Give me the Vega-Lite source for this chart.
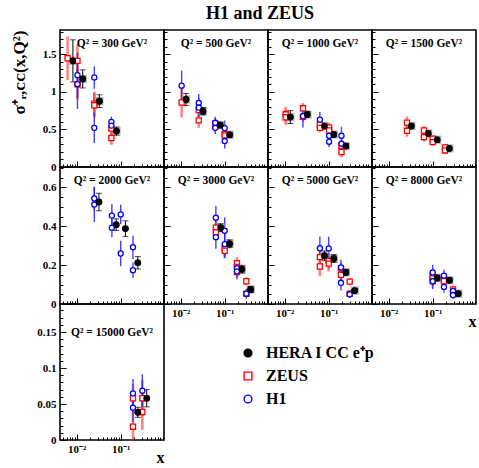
{
"$schema":"https://vega.github.io/schema/vega-lite/v6.json",
"padding":{"left":9,"top":5,"right":0,"bottom":0},
"title":{"text":"H1 and ZEUS","font":"Liberation Serif","fontSize":18,"fontWeight":"bold","anchor":"start","frame":"group","dx":146,"offset":6,"color":"black"},
"data":{"values":[
{"q":300,"s":"HERA","x":0.0082,"y":1.41,"e":0.28},
{"q":300,"s":"HERA","x":0.0137,"y":1.17,"e":0.12},
{"q":300,"s":"HERA","x":0.0327,"y":0.875,"e":0.085},
{"q":300,"s":"HERA","x":0.080,"y":0.477,"e":0.055},
{"q":300,"s":"ZEUS","x":0.0062,"y":1.445,"e":0.29},
{"q":300,"s":"ZEUS","x":0.0104,"y":1.41,"e":0.22},
{"q":300,"s":"ZEUS","x":0.0104,"y":1.10,"e":0.2},
{"q":300,"s":"ZEUS","x":0.0251,"y":0.84,"e":0.16},
{"q":300,"s":"ZEUS","x":0.0251,"y":0.82,"e":0.16},
{"q":300,"s":"ZEUS","x":0.0614,"y":0.51,"e":0.09},
{"q":300,"s":"ZEUS","x":0.0614,"y":0.385,"e":0.09},
{"q":300,"s":"H1","x":0.0104,"y":1.22,"e":0.3},
{"q":300,"s":"H1","x":0.0104,"y":1.10,"e":0.33},
{"q":300,"s":"H1","x":0.0251,"y":1.19,"e":0.15},
{"q":300,"s":"H1","x":0.0251,"y":0.52,"e":0.2},
{"q":300,"s":"H1","x":0.0614,"y":0.60,"e":0.07},
{"q":300,"s":"H1","x":0.0614,"y":0.55,"e":0.07},
{"q":500,"s":"HERA","x":0.0132,"y":0.897,"e":0.08},
{"q":500,"s":"HERA","x":0.032,"y":0.742,"e":0.05},
{"q":500,"s":"HERA","x":0.079,"y":0.557,"e":0.035},
{"q":500,"s":"HERA","x":0.129,"y":0.428,"e":0.035},
{"q":500,"s":"ZEUS","x":0.0105,"y":0.857,"e":0.2},
{"q":500,"s":"ZEUS","x":0.0257,"y":0.756,"e":0.1},
{"q":500,"s":"ZEUS","x":0.0257,"y":0.62,"e":0.1},
{"q":500,"s":"ZEUS","x":0.061,"y":0.574,"e":0.07},
{"q":500,"s":"ZEUS","x":0.061,"y":0.54,"e":0.07},
{"q":500,"s":"ZEUS","x":0.10,"y":0.44,"e":0.07},
{"q":500,"s":"ZEUS","x":0.10,"y":0.42,"e":0.07},
{"q":500,"s":"H1","x":0.0105,"y":1.08,"e":0.2},
{"q":500,"s":"H1","x":0.0257,"y":0.85,"e":0.12},
{"q":500,"s":"H1","x":0.0257,"y":0.79,"e":0.12},
{"q":500,"s":"H1","x":0.061,"y":0.587,"e":0.08},
{"q":500,"s":"H1","x":0.061,"y":0.52,"e":0.08},
{"q":500,"s":"H1","x":0.10,"y":0.517,"e":0.1},
{"q":500,"s":"H1","x":0.10,"y":0.345,"e":0.1},
{"q":1000,"s":"HERA","x":0.0134,"y":0.663,"e":0.085},
{"q":1000,"s":"HERA","x":0.0326,"y":0.698,"e":0.035},
{"q":1000,"s":"HERA","x":0.08,"y":0.544,"e":0.025},
{"q":1000,"s":"HERA","x":0.13,"y":0.432,"e":0.03},
{"q":1000,"s":"HERA","x":0.245,"y":0.278,"e":0.03},
{"q":1000,"s":"ZEUS","x":0.0105,"y":0.70,"e":0.1},
{"q":1000,"s":"ZEUS","x":0.0105,"y":0.66,"e":0.1},
{"q":1000,"s":"ZEUS","x":0.026,"y":0.78,"e":0.07},
{"q":1000,"s":"ZEUS","x":0.026,"y":0.667,"e":0.07},
{"q":1000,"s":"ZEUS","x":0.063,"y":0.565,"e":0.06},
{"q":1000,"s":"ZEUS","x":0.063,"y":0.52,"e":0.06},
{"q":1000,"s":"ZEUS","x":0.102,"y":0.525,"e":0.06},
{"q":1000,"s":"ZEUS","x":0.102,"y":0.485,"e":0.06},
{"q":1000,"s":"ZEUS","x":0.195,"y":0.282,"e":0.07},
{"q":1000,"s":"ZEUS","x":0.195,"y":0.199,"e":0.07},
{"q":1000,"s":"H1","x":0.026,"y":0.676,"e":0.15},
{"q":1000,"s":"H1","x":0.063,"y":0.63,"e":0.1},
{"q":1000,"s":"H1","x":0.102,"y":0.415,"e":0.07},
{"q":1000,"s":"H1","x":0.102,"y":0.336,"e":0.07},
{"q":1000,"s":"H1","x":0.195,"y":0.415,"e":0.12},
{"q":1000,"s":"H1","x":0.195,"y":0.309,"e":0.12},
{"q":1500,"s":"HERA","x":0.0326,"y":0.544,"e":0.035},
{"q":1500,"s":"HERA","x":0.079,"y":0.446,"e":0.03},
{"q":1500,"s":"HERA","x":0.126,"y":0.362,"e":0.03},
{"q":1500,"s":"HERA","x":0.238,"y":0.247,"e":0.02},
{"q":1500,"s":"ZEUS","x":0.026,"y":0.59,"e":0.08},
{"q":1500,"s":"ZEUS","x":0.026,"y":0.481,"e":0.08},
{"q":1500,"s":"ZEUS","x":0.0633,"y":0.485,"e":0.06},
{"q":1500,"s":"ZEUS","x":0.0633,"y":0.398,"e":0.06},
{"q":1500,"s":"ZEUS","x":0.10,"y":0.375,"e":0.05},
{"q":1500,"s":"ZEUS","x":0.10,"y":0.33,"e":0.05},
{"q":1500,"s":"ZEUS","x":0.19,"y":0.26,"e":0.04},
{"q":1500,"s":"ZEUS","x":0.19,"y":0.22,"e":0.04},
{"q":2000,"s":"HERA","x":0.032,"y":0.525,"e":0.045},
{"q":2000,"s":"HERA","x":0.079,"y":0.408,"e":0.03},
{"q":2000,"s":"HERA","x":0.128,"y":0.388,"e":0.04},
{"q":2000,"s":"HERA","x":0.245,"y":0.212,"e":0.032},
{"q":2000,"s":"H1","x":0.0251,"y":0.543,"e":0.06},
{"q":2000,"s":"H1","x":0.0251,"y":0.512,"e":0.09},
{"q":2000,"s":"H1","x":0.063,"y":0.455,"e":0.06},
{"q":2000,"s":"H1","x":0.063,"y":0.393,"e":0.05},
{"q":2000,"s":"H1","x":0.1,"y":0.461,"e":0.05},
{"q":2000,"s":"H1","x":0.1,"y":0.26,"e":0.066},
{"q":2000,"s":"H1","x":0.19,"y":0.292,"e":0.06},
{"q":2000,"s":"H1","x":0.19,"y":0.174,"e":0.04},
{"q":3000,"s":"HERA","x":0.081,"y":0.393,"e":0.02},
{"q":3000,"s":"HERA","x":0.129,"y":0.31,"e":0.02},
{"q":3000,"s":"HERA","x":0.245,"y":0.179,"e":0.02},
{"q":3000,"s":"HERA","x":0.389,"y":0.075,"e":0.015},
{"q":3000,"s":"ZEUS","x":0.063,"y":0.393,"e":0.04},
{"q":3000,"s":"ZEUS","x":0.063,"y":0.368,"e":0.04},
{"q":3000,"s":"ZEUS","x":0.1,"y":0.287,"e":0.04},
{"q":3000,"s":"ZEUS","x":0.1,"y":0.274,"e":0.04},
{"q":3000,"s":"ZEUS","x":0.19,"y":0.21,"e":0.03},
{"q":3000,"s":"ZEUS","x":0.19,"y":0.191,"e":0.03},
{"q":3000,"s":"ZEUS","x":0.19,"y":0.165,"e":0.03},
{"q":3000,"s":"ZEUS","x":0.31,"y":0.117,"e":0.02},
{"q":3000,"s":"ZEUS","x":0.31,"y":0.053,"e":0.02},
{"q":3000,"s":"H1","x":0.063,"y":0.444,"e":0.06},
{"q":3000,"s":"H1","x":0.063,"y":0.344,"e":0.06},
{"q":3000,"s":"H1","x":0.1,"y":0.377,"e":0.07},
{"q":3000,"s":"H1","x":0.1,"y":0.308,"e":0.07},
{"q":3000,"s":"H1","x":0.19,"y":0.184,"e":0.04},
{"q":3000,"s":"H1","x":0.19,"y":0.168,"e":0.04},
{"q":3000,"s":"H1","x":0.31,"y":0.053,"e":0.025},
{"q":5000,"s":"HERA","x":0.08,"y":0.248,"e":0.025},
{"q":5000,"s":"HERA","x":0.13,"y":0.234,"e":0.02},
{"q":5000,"s":"HERA","x":0.245,"y":0.163,"e":0.015},
{"q":5000,"s":"HERA","x":0.39,"y":0.069,"e":0.01},
{"q":5000,"s":"ZEUS","x":0.063,"y":0.241,"e":0.05},
{"q":5000,"s":"ZEUS","x":0.063,"y":0.193,"e":0.05},
{"q":5000,"s":"ZEUS","x":0.1,"y":0.222,"e":0.04},
{"q":5000,"s":"ZEUS","x":0.1,"y":0.208,"e":0.04},
{"q":5000,"s":"ZEUS","x":0.19,"y":0.182,"e":0.03},
{"q":5000,"s":"ZEUS","x":0.19,"y":0.15,"e":0.03},
{"q":5000,"s":"ZEUS","x":0.3,"y":0.115,"e":0.02},
{"q":5000,"s":"ZEUS","x":0.3,"y":0.053,"e":0.02},
{"q":5000,"s":"H1","x":0.063,"y":0.287,"e":0.06},
{"q":5000,"s":"H1","x":0.1,"y":0.286,"e":0.06},
{"q":5000,"s":"H1","x":0.19,"y":0.188,"e":0.04},
{"q":5000,"s":"H1","x":0.19,"y":0.109,"e":0.04},
{"q":5000,"s":"H1","x":0.3,"y":0.05,"e":0.02},
{"q":8000,"s":"HERA","x":0.126,"y":0.134,"e":0.015},
{"q":8000,"s":"HERA","x":0.24,"y":0.122,"e":0.012},
{"q":8000,"s":"HERA","x":0.38,"y":0.053,"e":0.008},
{"q":8000,"s":"ZEUS","x":0.1,"y":0.146,"e":0.03},
{"q":8000,"s":"ZEUS","x":0.1,"y":0.132,"e":0.03},
{"q":8000,"s":"ZEUS","x":0.1,"y":0.117,"e":0.03},
{"q":8000,"s":"ZEUS","x":0.18,"y":0.127,"e":0.03},
{"q":8000,"s":"ZEUS","x":0.18,"y":0.117,"e":0.03},
{"q":8000,"s":"ZEUS","x":0.29,"y":0.075,"e":0.02},
{"q":8000,"s":"ZEUS","x":0.29,"y":0.054,"e":0.02},
{"q":8000,"s":"H1","x":0.1,"y":0.162,"e":0.04},
{"q":8000,"s":"H1","x":0.1,"y":0.117,"e":0.04},
{"q":8000,"s":"H1","x":0.18,"y":0.146,"e":0.03},
{"q":8000,"s":"H1","x":0.18,"y":0.088,"e":0.03},
{"q":8000,"s":"H1","x":0.29,"y":0.067,"e":0.02},
{"q":8000,"s":"H1","x":0.29,"y":0.046,"e":0.02},
{"q":15000,"s":"HERA","x":0.245,"y":0.0385,"e":0.007},
{"q":15000,"s":"HERA","x":0.39,"y":0.058,"e":0.012},
{"q":15000,"s":"ZEUS","x":0.19,"y":0.058,"e":0.02},
{"q":15000,"s":"ZEUS","x":0.19,"y":0.0185,"e":0.02},
{"q":15000,"s":"ZEUS","x":0.31,"y":0.058,"e":0.025},
{"q":15000,"s":"ZEUS","x":0.31,"y":0.039,"e":0.025},
{"q":15000,"s":"H1","x":0.19,"y":0.0648,"e":0.02},
{"q":15000,"s":"H1","x":0.19,"y":0.0449,"e":0.02},
{"q":15000,"s":"H1","x":0.31,"y":0.0685,"e":0.023}
]},
"columns":4,
"spacing":0,
"bounds":"flush",
"resolve":{"scale":{"stroke":"independent","fill":"independent","shape":"independent"},"legend":{"stroke":"independent","fill":"independent","shape":"independent"}},
"concat":[
{"width":104,"height":137,"title":{"text":"Q² = 300 GeV²","offset":-19},"transform":[{"filter":"datum.q == 300"}],
"layer":[
{"mark":{"type":"point","opacity":0},"encoding":{"x":{"field":"x","type":"quantitative","scale":{"type":"log","domain":[0.00417,0.964],"nice":false},"axis":{"orient":"bottom","values":[0.01,0.1],"tickSize":-6,"labels":false,"title":null}},"y":{"field":"y","type":"quantitative","scale":{"domain":[0,1.82],"nice":false},"axis":{"orient":"left","values":[0,0.5,1,1.5],"format":"~g","tickSize":-6,"labels":true,"labelPadding":10,"title":"σ⁺ᵣ,ᴄᴄ(x,Q²)","titleFontSize":17,"titleAnchor":"end","titlePadding":14}}}},
{"mark":{"type":"point","opacity":0},"encoding":{"x":{"field":"x","type":"quantitative","scale":{"type":"log","domain":[0.00417,0.964],"nice":false},"axis":{"orient":"bottom","values":[0.005,0.006,0.007,0.008,0.009,0.02,0.03,0.04,0.05,0.06,0.07,0.08,0.09,0.2,0.3,0.4,0.5,0.6,0.7,0.8,0.9],"tickSize":-3,"labels":false,"title":null}},"y":{"field":"y","type":"quantitative","scale":{"domain":[0,1.82],"nice":false},"axis":{"orient":"left","values":[0.1,0.2,0.3,0.4,0.6,0.7,0.8,0.9,1.1,1.2,1.3,1.4,1.6,1.7,1.8],"tickSize":-3,"labels":false,"title":null}}}},
{"transform":[{"filter":"datum.s == 'ZEUS'"}],"mark":{"type":"errorbar","color":"#ff2020","opacity":0.55,"thickness":2.6},"encoding":{"x":{"field":"x","type":"quantitative","scale":{"type":"log","domain":[0.00417,0.964],"nice":false},"axis":null},"y":{"field":"y","type":"quantitative","scale":{"domain":[0,1.82],"nice":false},"axis":null},"yError":{"field":"e"}}},
{"transform":[{"filter":"datum.s == 'H1'"}],"mark":{"type":"errorbar","color":"#2020ff","opacity":0.85,"thickness":1.4},"encoding":{"x":{"field":"x","type":"quantitative","scale":{"type":"log","domain":[0.00417,0.964],"nice":false},"axis":null},"y":{"field":"y","type":"quantitative","scale":{"domain":[0,1.82],"nice":false},"axis":null},"yError":{"field":"e"}}},
{"transform":[{"filter":"datum.s == 'HERA'"}],"mark":{"type":"square","color":"#999999","size":70,"opacity":0.7},"encoding":{"x":{"field":"x","type":"quantitative","scale":{"type":"log","domain":[0.00417,0.964],"nice":false},"axis":null},"y":{"field":"y","type":"quantitative","scale":{"domain":[0,1.82],"nice":false},"axis":null}}},
{"transform":[{"filter":"datum.s == 'HERA'"}],"mark":{"type":"errorbar","color":"black","thickness":1,"ticks":{"size":6}},"encoding":{"x":{"field":"x","type":"quantitative","scale":{"type":"log","domain":[0.00417,0.964],"nice":false},"axis":null},"y":{"field":"y","type":"quantitative","scale":{"domain":[0,1.82],"nice":false},"axis":null},"yError":{"field":"e"}}},
{"mark":{"type":"point","strokeWidth":1.3,"size":26,"opacity":1},"encoding":{"x":{"field":"x","type":"quantitative","scale":{"type":"log","domain":[0.00417,0.964],"nice":false},"axis":null},"y":{"field":"y","type":"quantitative","scale":{"domain":[0,1.82],"nice":false},"axis":null},
"stroke":{"field":"s","type":"nominal","scale":{"domain":["HERA","ZEUS","H1"],"range":["#000000","#ff0000","#0000ff"]},"legend":null},
"fill":{"field":"s","type":"nominal","scale":{"domain":["HERA","ZEUS","H1"],"range":["#000000","#ffffff","#ffffff"]},"legend":null},
"shape":{"field":"s","type":"nominal","scale":{"domain":["HERA","ZEUS","H1"],"range":["circle","square","circle"]},"legend":null}}},
{"transform":[{"filter":"datum.s == 'HERA'"}],"mark":{"type":"circle","color":"black","size":45,"opacity":1},"encoding":{"x":{"field":"x","type":"quantitative","scale":{"type":"log","domain":[0.00417,0.964],"nice":false},"axis":null},"y":{"field":"y","type":"quantitative","scale":{"domain":[0,1.82],"nice":false},"axis":null}}}
],"resolve":{"axis":{"x":"independent","y":"independent"}}},
{"width":104,"height":137,"title":{"text":"Q² = 500 GeV²","offset":-19},"transform":[{"filter":"datum.q == 500"}],
"layer":[
{"mark":{"type":"point","opacity":0},"encoding":{"x":{"field":"x","type":"quantitative","scale":{"type":"log","domain":[0.00417,0.964],"nice":false},"axis":{"orient":"bottom","values":[0.01,0.1],"tickSize":-6,"labels":false,"title":null}},"y":{"field":"y","type":"quantitative","scale":{"domain":[0,1.82],"nice":false},"axis":{"orient":"left","values":[0,0.5,1,1.5],"tickSize":-6,"labels":false,"title":null}}}},
{"mark":{"type":"point","opacity":0},"encoding":{"x":{"field":"x","type":"quantitative","scale":{"type":"log","domain":[0.00417,0.964],"nice":false},"axis":{"orient":"bottom","values":[0.005,0.006,0.007,0.008,0.009,0.02,0.03,0.04,0.05,0.06,0.07,0.08,0.09,0.2,0.3,0.4,0.5,0.6,0.7,0.8,0.9],"tickSize":-3,"labels":false,"title":null}},"y":{"field":"y","type":"quantitative","scale":{"domain":[0,1.82],"nice":false},"axis":{"orient":"left","values":[0.1,0.2,0.3,0.4,0.6,0.7,0.8,0.9,1.1,1.2,1.3,1.4,1.6,1.7,1.8],"tickSize":-3,"labels":false,"title":null}}}},
{"transform":[{"filter":"datum.s == 'ZEUS'"}],"mark":{"type":"errorbar","color":"#ff2020","opacity":0.55,"thickness":2.6},"encoding":{"x":{"field":"x","type":"quantitative","scale":{"type":"log","domain":[0.00417,0.964],"nice":false},"axis":null},"y":{"field":"y","type":"quantitative","scale":{"domain":[0,1.82],"nice":false},"axis":null},"yError":{"field":"e"}}},
{"transform":[{"filter":"datum.s == 'H1'"}],"mark":{"type":"errorbar","color":"#2020ff","opacity":0.85,"thickness":1.4},"encoding":{"x":{"field":"x","type":"quantitative","scale":{"type":"log","domain":[0.00417,0.964],"nice":false},"axis":null},"y":{"field":"y","type":"quantitative","scale":{"domain":[0,1.82],"nice":false},"axis":null},"yError":{"field":"e"}}},
{"transform":[{"filter":"datum.s == 'HERA'"}],"mark":{"type":"square","color":"#999999","size":70,"opacity":0.7},"encoding":{"x":{"field":"x","type":"quantitative","scale":{"type":"log","domain":[0.00417,0.964],"nice":false},"axis":null},"y":{"field":"y","type":"quantitative","scale":{"domain":[0,1.82],"nice":false},"axis":null}}},
{"transform":[{"filter":"datum.s == 'HERA'"}],"mark":{"type":"errorbar","color":"black","thickness":1,"ticks":{"size":6}},"encoding":{"x":{"field":"x","type":"quantitative","scale":{"type":"log","domain":[0.00417,0.964],"nice":false},"axis":null},"y":{"field":"y","type":"quantitative","scale":{"domain":[0,1.82],"nice":false},"axis":null},"yError":{"field":"e"}}},
{"mark":{"type":"point","strokeWidth":1.3,"size":26,"opacity":1},"encoding":{"x":{"field":"x","type":"quantitative","scale":{"type":"log","domain":[0.00417,0.964],"nice":false},"axis":null},"y":{"field":"y","type":"quantitative","scale":{"domain":[0,1.82],"nice":false},"axis":null},
"stroke":{"field":"s","type":"nominal","scale":{"domain":["HERA","ZEUS","H1"],"range":["#000000","#ff0000","#0000ff"]},"legend":null},
"fill":{"field":"s","type":"nominal","scale":{"domain":["HERA","ZEUS","H1"],"range":["#000000","#ffffff","#ffffff"]},"legend":null},
"shape":{"field":"s","type":"nominal","scale":{"domain":["HERA","ZEUS","H1"],"range":["circle","square","circle"]},"legend":null}}},
{"transform":[{"filter":"datum.s == 'HERA'"}],"mark":{"type":"circle","color":"black","size":45,"opacity":1},"encoding":{"x":{"field":"x","type":"quantitative","scale":{"type":"log","domain":[0.00417,0.964],"nice":false},"axis":null},"y":{"field":"y","type":"quantitative","scale":{"domain":[0,1.82],"nice":false},"axis":null}}}
],"resolve":{"axis":{"x":"independent","y":"independent"}}},
{"width":104,"height":137,"title":{"text":"Q² = 1000 GeV²","offset":-19},"transform":[{"filter":"datum.q == 1000"}],
"layer":[
{"mark":{"type":"point","opacity":0},"encoding":{"x":{"field":"x","type":"quantitative","scale":{"type":"log","domain":[0.00417,0.964],"nice":false},"axis":{"orient":"bottom","values":[0.01,0.1],"tickSize":-6,"labels":false,"title":null}},"y":{"field":"y","type":"quantitative","scale":{"domain":[0,1.82],"nice":false},"axis":{"orient":"left","values":[0,0.5,1,1.5],"tickSize":-6,"labels":false,"title":null}}}},
{"mark":{"type":"point","opacity":0},"encoding":{"x":{"field":"x","type":"quantitative","scale":{"type":"log","domain":[0.00417,0.964],"nice":false},"axis":{"orient":"bottom","values":[0.005,0.006,0.007,0.008,0.009,0.02,0.03,0.04,0.05,0.06,0.07,0.08,0.09,0.2,0.3,0.4,0.5,0.6,0.7,0.8,0.9],"tickSize":-3,"labels":false,"title":null}},"y":{"field":"y","type":"quantitative","scale":{"domain":[0,1.82],"nice":false},"axis":{"orient":"left","values":[0.1,0.2,0.3,0.4,0.6,0.7,0.8,0.9,1.1,1.2,1.3,1.4,1.6,1.7,1.8],"tickSize":-3,"labels":false,"title":null}}}},
{"transform":[{"filter":"datum.s == 'ZEUS'"}],"mark":{"type":"errorbar","color":"#ff2020","opacity":0.55,"thickness":2.6},"encoding":{"x":{"field":"x","type":"quantitative","scale":{"type":"log","domain":[0.00417,0.964],"nice":false},"axis":null},"y":{"field":"y","type":"quantitative","scale":{"domain":[0,1.82],"nice":false},"axis":null},"yError":{"field":"e"}}},
{"transform":[{"filter":"datum.s == 'H1'"}],"mark":{"type":"errorbar","color":"#2020ff","opacity":0.85,"thickness":1.4},"encoding":{"x":{"field":"x","type":"quantitative","scale":{"type":"log","domain":[0.00417,0.964],"nice":false},"axis":null},"y":{"field":"y","type":"quantitative","scale":{"domain":[0,1.82],"nice":false},"axis":null},"yError":{"field":"e"}}},
{"transform":[{"filter":"datum.s == 'HERA'"}],"mark":{"type":"square","color":"#999999","size":70,"opacity":0.7},"encoding":{"x":{"field":"x","type":"quantitative","scale":{"type":"log","domain":[0.00417,0.964],"nice":false},"axis":null},"y":{"field":"y","type":"quantitative","scale":{"domain":[0,1.82],"nice":false},"axis":null}}},
{"transform":[{"filter":"datum.s == 'HERA'"}],"mark":{"type":"errorbar","color":"black","thickness":1,"ticks":{"size":6}},"encoding":{"x":{"field":"x","type":"quantitative","scale":{"type":"log","domain":[0.00417,0.964],"nice":false},"axis":null},"y":{"field":"y","type":"quantitative","scale":{"domain":[0,1.82],"nice":false},"axis":null},"yError":{"field":"e"}}},
{"mark":{"type":"point","strokeWidth":1.3,"size":26,"opacity":1},"encoding":{"x":{"field":"x","type":"quantitative","scale":{"type":"log","domain":[0.00417,0.964],"nice":false},"axis":null},"y":{"field":"y","type":"quantitative","scale":{"domain":[0,1.82],"nice":false},"axis":null},
"stroke":{"field":"s","type":"nominal","scale":{"domain":["HERA","ZEUS","H1"],"range":["#000000","#ff0000","#0000ff"]},"legend":null},
"fill":{"field":"s","type":"nominal","scale":{"domain":["HERA","ZEUS","H1"],"range":["#000000","#ffffff","#ffffff"]},"legend":null},
"shape":{"field":"s","type":"nominal","scale":{"domain":["HERA","ZEUS","H1"],"range":["circle","square","circle"]},"legend":null}}},
{"transform":[{"filter":"datum.s == 'HERA'"}],"mark":{"type":"circle","color":"black","size":45,"opacity":1},"encoding":{"x":{"field":"x","type":"quantitative","scale":{"type":"log","domain":[0.00417,0.964],"nice":false},"axis":null},"y":{"field":"y","type":"quantitative","scale":{"domain":[0,1.82],"nice":false},"axis":null}}}
],"resolve":{"axis":{"x":"independent","y":"independent"}}},
{"width":104,"height":137,"title":{"text":"Q² = 1500 GeV²","offset":-19},"transform":[{"filter":"datum.q == 1500"}],
"layer":[
{"mark":{"type":"point","opacity":0},"encoding":{"x":{"field":"x","type":"quantitative","scale":{"type":"log","domain":[0.00417,0.964],"nice":false},"axis":{"orient":"bottom","values":[0.01,0.1],"tickSize":-6,"labels":false,"title":null}},"y":{"field":"y","type":"quantitative","scale":{"domain":[0,1.82],"nice":false},"axis":{"orient":"left","values":[0,0.5,1,1.5],"tickSize":-6,"labels":false,"title":null}}}},
{"mark":{"type":"point","opacity":0},"encoding":{"x":{"field":"x","type":"quantitative","scale":{"type":"log","domain":[0.00417,0.964],"nice":false},"axis":{"orient":"bottom","values":[0.005,0.006,0.007,0.008,0.009,0.02,0.03,0.04,0.05,0.06,0.07,0.08,0.09,0.2,0.3,0.4,0.5,0.6,0.7,0.8,0.9],"tickSize":-3,"labels":false,"title":null}},"y":{"field":"y","type":"quantitative","scale":{"domain":[0,1.82],"nice":false},"axis":{"orient":"left","values":[0.1,0.2,0.3,0.4,0.6,0.7,0.8,0.9,1.1,1.2,1.3,1.4,1.6,1.7,1.8],"tickSize":-3,"labels":false,"title":null}}}},
{"transform":[{"filter":"datum.s == 'ZEUS'"}],"mark":{"type":"errorbar","color":"#ff2020","opacity":0.55,"thickness":2.6},"encoding":{"x":{"field":"x","type":"quantitative","scale":{"type":"log","domain":[0.00417,0.964],"nice":false},"axis":null},"y":{"field":"y","type":"quantitative","scale":{"domain":[0,1.82],"nice":false},"axis":null},"yError":{"field":"e"}}},
{"transform":[{"filter":"datum.s == 'HERA'"}],"mark":{"type":"square","color":"#999999","size":70,"opacity":0.7},"encoding":{"x":{"field":"x","type":"quantitative","scale":{"type":"log","domain":[0.00417,0.964],"nice":false},"axis":null},"y":{"field":"y","type":"quantitative","scale":{"domain":[0,1.82],"nice":false},"axis":null}}},
{"transform":[{"filter":"datum.s == 'HERA'"}],"mark":{"type":"errorbar","color":"black","thickness":1,"ticks":{"size":6}},"encoding":{"x":{"field":"x","type":"quantitative","scale":{"type":"log","domain":[0.00417,0.964],"nice":false},"axis":null},"y":{"field":"y","type":"quantitative","scale":{"domain":[0,1.82],"nice":false},"axis":null},"yError":{"field":"e"}}},
{"mark":{"type":"point","strokeWidth":1.3,"size":26,"opacity":1},"encoding":{"x":{"field":"x","type":"quantitative","scale":{"type":"log","domain":[0.00417,0.964],"nice":false},"axis":null},"y":{"field":"y","type":"quantitative","scale":{"domain":[0,1.82],"nice":false},"axis":null},
"stroke":{"field":"s","type":"nominal","scale":{"domain":["HERA","ZEUS","H1"],"range":["#000000","#ff0000","#0000ff"]},"legend":null},
"fill":{"field":"s","type":"nominal","scale":{"domain":["HERA","ZEUS","H1"],"range":["#000000","#ffffff","#ffffff"]},"legend":null},
"shape":{"field":"s","type":"nominal","scale":{"domain":["HERA","ZEUS","H1"],"range":["circle","square","circle"]},"legend":null}}},
{"transform":[{"filter":"datum.s == 'HERA'"}],"mark":{"type":"circle","color":"black","size":45,"opacity":1},"encoding":{"x":{"field":"x","type":"quantitative","scale":{"type":"log","domain":[0.00417,0.964],"nice":false},"axis":null},"y":{"field":"y","type":"quantitative","scale":{"domain":[0,1.82],"nice":false},"axis":null}}}
],"resolve":{"axis":{"x":"independent","y":"independent"}}},
{"width":104,"height":137,"title":{"text":"Q² = 2000 GeV²","offset":-19},"transform":[{"filter":"datum.q == 2000"}],
"layer":[
{"mark":{"type":"point","opacity":0},"encoding":{"x":{"field":"x","type":"quantitative","scale":{"type":"log","domain":[0.00417,0.964],"nice":false},"axis":{"orient":"bottom","values":[0.01,0.1],"tickSize":-6,"labels":false,"title":null}},"y":{"field":"y","type":"quantitative","scale":{"domain":[0,0.705],"nice":false},"axis":{"orient":"left","values":[0,0.2,0.4,0.6],"format":"~g","tickSize":-6,"labels":true,"labelPadding":10,"title":null}}}},
{"mark":{"type":"point","opacity":0},"encoding":{"x":{"field":"x","type":"quantitative","scale":{"type":"log","domain":[0.00417,0.964],"nice":false},"axis":{"orient":"bottom","values":[0.005,0.006,0.007,0.008,0.009,0.02,0.03,0.04,0.05,0.06,0.07,0.08,0.09,0.2,0.3,0.4,0.5,0.6,0.7,0.8,0.9],"tickSize":-3,"labels":false,"title":null}},"y":{"field":"y","type":"quantitative","scale":{"domain":[0,0.705],"nice":false},"axis":{"orient":"left","values":[0.05,0.1,0.15,0.25,0.3,0.35,0.45,0.5,0.55,0.65,0.7],"tickSize":-3,"labels":false,"title":null}}}},
{"transform":[{"filter":"datum.s == 'H1'"}],"mark":{"type":"errorbar","color":"#2020ff","opacity":0.85,"thickness":1.4},"encoding":{"x":{"field":"x","type":"quantitative","scale":{"type":"log","domain":[0.00417,0.964],"nice":false},"axis":null},"y":{"field":"y","type":"quantitative","scale":{"domain":[0,0.705],"nice":false},"axis":null},"yError":{"field":"e"}}},
{"transform":[{"filter":"datum.s == 'HERA'"}],"mark":{"type":"errorbar","color":"black","thickness":1,"ticks":{"size":6}},"encoding":{"x":{"field":"x","type":"quantitative","scale":{"type":"log","domain":[0.00417,0.964],"nice":false},"axis":null},"y":{"field":"y","type":"quantitative","scale":{"domain":[0,0.705],"nice":false},"axis":null},"yError":{"field":"e"}}},
{"mark":{"type":"point","strokeWidth":1.3,"size":26,"opacity":1},"encoding":{"x":{"field":"x","type":"quantitative","scale":{"type":"log","domain":[0.00417,0.964],"nice":false},"axis":null},"y":{"field":"y","type":"quantitative","scale":{"domain":[0,0.705],"nice":false},"axis":null},
"stroke":{"field":"s","type":"nominal","scale":{"domain":["HERA","ZEUS","H1"],"range":["#000000","#ff0000","#0000ff"]},"legend":null},
"fill":{"field":"s","type":"nominal","scale":{"domain":["HERA","ZEUS","H1"],"range":["#000000","#ffffff","#ffffff"]},"legend":null},
"shape":{"field":"s","type":"nominal","scale":{"domain":["HERA","ZEUS","H1"],"range":["circle","square","circle"]},"legend":null}}},
{"transform":[{"filter":"datum.s == 'HERA'"}],"mark":{"type":"circle","color":"black","size":45,"opacity":1},"encoding":{"x":{"field":"x","type":"quantitative","scale":{"type":"log","domain":[0.00417,0.964],"nice":false},"axis":null},"y":{"field":"y","type":"quantitative","scale":{"domain":[0,0.705],"nice":false},"axis":null}}}
],"resolve":{"axis":{"x":"independent","y":"independent"}}},
{"width":104,"height":137,"title":{"text":"Q² = 3000 GeV²","offset":-19},"transform":[{"filter":"datum.q == 3000"}],
"layer":[
{"mark":{"type":"point","opacity":0},"encoding":{"x":{"field":"x","type":"quantitative","scale":{"type":"log","domain":[0.00417,0.964],"nice":false},"axis":{"orient":"bottom","values":[0.01,0.1],"tickSize":-6,"labels":true,"labelExpr":"datum.value < 0.05 ? '10⁻²' : '10⁻¹'","labelPadding":9,"title":null}},"y":{"field":"y","type":"quantitative","scale":{"domain":[0,0.705],"nice":false},"axis":{"orient":"left","values":[0,0.2,0.4,0.6],"tickSize":-6,"labels":false,"title":null}}}},
{"mark":{"type":"point","opacity":0},"encoding":{"x":{"field":"x","type":"quantitative","scale":{"type":"log","domain":[0.00417,0.964],"nice":false},"axis":{"orient":"bottom","values":[0.005,0.006,0.007,0.008,0.009,0.02,0.03,0.04,0.05,0.06,0.07,0.08,0.09,0.2,0.3,0.4,0.5,0.6,0.7,0.8,0.9],"tickSize":-3,"labels":false,"title":null}},"y":{"field":"y","type":"quantitative","scale":{"domain":[0,0.705],"nice":false},"axis":{"orient":"left","values":[0.05,0.1,0.15,0.25,0.3,0.35,0.45,0.5,0.55,0.65,0.7],"tickSize":-3,"labels":false,"title":null}}}},
{"transform":[{"filter":"datum.s == 'ZEUS'"}],"mark":{"type":"errorbar","color":"#ff2020","opacity":0.55,"thickness":2.6},"encoding":{"x":{"field":"x","type":"quantitative","scale":{"type":"log","domain":[0.00417,0.964],"nice":false},"axis":null},"y":{"field":"y","type":"quantitative","scale":{"domain":[0,0.705],"nice":false},"axis":null},"yError":{"field":"e"}}},
{"transform":[{"filter":"datum.s == 'H1'"}],"mark":{"type":"errorbar","color":"#2020ff","opacity":0.85,"thickness":1.4},"encoding":{"x":{"field":"x","type":"quantitative","scale":{"type":"log","domain":[0.00417,0.964],"nice":false},"axis":null},"y":{"field":"y","type":"quantitative","scale":{"domain":[0,0.705],"nice":false},"axis":null},"yError":{"field":"e"}}},
{"transform":[{"filter":"datum.s == 'HERA'"}],"mark":{"type":"square","color":"#999999","size":70,"opacity":0.7},"encoding":{"x":{"field":"x","type":"quantitative","scale":{"type":"log","domain":[0.00417,0.964],"nice":false},"axis":null},"y":{"field":"y","type":"quantitative","scale":{"domain":[0,0.705],"nice":false},"axis":null}}},
{"transform":[{"filter":"datum.s == 'HERA'"}],"mark":{"type":"errorbar","color":"black","thickness":1,"ticks":{"size":6}},"encoding":{"x":{"field":"x","type":"quantitative","scale":{"type":"log","domain":[0.00417,0.964],"nice":false},"axis":null},"y":{"field":"y","type":"quantitative","scale":{"domain":[0,0.705],"nice":false},"axis":null},"yError":{"field":"e"}}},
{"mark":{"type":"point","strokeWidth":1.3,"size":26,"opacity":1},"encoding":{"x":{"field":"x","type":"quantitative","scale":{"type":"log","domain":[0.00417,0.964],"nice":false},"axis":null},"y":{"field":"y","type":"quantitative","scale":{"domain":[0,0.705],"nice":false},"axis":null},
"stroke":{"field":"s","type":"nominal","scale":{"domain":["HERA","ZEUS","H1"],"range":["#000000","#ff0000","#0000ff"]},"legend":null},
"fill":{"field":"s","type":"nominal","scale":{"domain":["HERA","ZEUS","H1"],"range":["#000000","#ffffff","#ffffff"]},"legend":null},
"shape":{"field":"s","type":"nominal","scale":{"domain":["HERA","ZEUS","H1"],"range":["circle","square","circle"]},"legend":null}}},
{"transform":[{"filter":"datum.s == 'HERA'"}],"mark":{"type":"circle","color":"black","size":45,"opacity":1},"encoding":{"x":{"field":"x","type":"quantitative","scale":{"type":"log","domain":[0.00417,0.964],"nice":false},"axis":null},"y":{"field":"y","type":"quantitative","scale":{"domain":[0,0.705],"nice":false},"axis":null}}}
],"resolve":{"axis":{"x":"independent","y":"independent"}}},
{"width":104,"height":137,"title":{"text":"Q² = 5000 GeV²","offset":-19},"transform":[{"filter":"datum.q == 5000"}],
"layer":[
{"mark":{"type":"point","opacity":0},"encoding":{"x":{"field":"x","type":"quantitative","scale":{"type":"log","domain":[0.00417,0.964],"nice":false},"axis":{"orient":"bottom","values":[0.01,0.1],"tickSize":-6,"labels":true,"labelExpr":"datum.value < 0.05 ? '10⁻²' : '10⁻¹'","labelPadding":9,"title":null}},"y":{"field":"y","type":"quantitative","scale":{"domain":[0,0.705],"nice":false},"axis":{"orient":"left","values":[0,0.2,0.4,0.6],"tickSize":-6,"labels":false,"title":null}}}},
{"mark":{"type":"point","opacity":0},"encoding":{"x":{"field":"x","type":"quantitative","scale":{"type":"log","domain":[0.00417,0.964],"nice":false},"axis":{"orient":"bottom","values":[0.005,0.006,0.007,0.008,0.009,0.02,0.03,0.04,0.05,0.06,0.07,0.08,0.09,0.2,0.3,0.4,0.5,0.6,0.7,0.8,0.9],"tickSize":-3,"labels":false,"title":null}},"y":{"field":"y","type":"quantitative","scale":{"domain":[0,0.705],"nice":false},"axis":{"orient":"left","values":[0.05,0.1,0.15,0.25,0.3,0.35,0.45,0.5,0.55,0.65,0.7],"tickSize":-3,"labels":false,"title":null}}}},
{"transform":[{"filter":"datum.s == 'ZEUS'"}],"mark":{"type":"errorbar","color":"#ff2020","opacity":0.55,"thickness":2.6},"encoding":{"x":{"field":"x","type":"quantitative","scale":{"type":"log","domain":[0.00417,0.964],"nice":false},"axis":null},"y":{"field":"y","type":"quantitative","scale":{"domain":[0,0.705],"nice":false},"axis":null},"yError":{"field":"e"}}},
{"transform":[{"filter":"datum.s == 'H1'"}],"mark":{"type":"errorbar","color":"#2020ff","opacity":0.85,"thickness":1.4},"encoding":{"x":{"field":"x","type":"quantitative","scale":{"type":"log","domain":[0.00417,0.964],"nice":false},"axis":null},"y":{"field":"y","type":"quantitative","scale":{"domain":[0,0.705],"nice":false},"axis":null},"yError":{"field":"e"}}},
{"transform":[{"filter":"datum.s == 'HERA'"}],"mark":{"type":"square","color":"#999999","size":70,"opacity":0.7},"encoding":{"x":{"field":"x","type":"quantitative","scale":{"type":"log","domain":[0.00417,0.964],"nice":false},"axis":null},"y":{"field":"y","type":"quantitative","scale":{"domain":[0,0.705],"nice":false},"axis":null}}},
{"transform":[{"filter":"datum.s == 'HERA'"}],"mark":{"type":"errorbar","color":"black","thickness":1,"ticks":{"size":6}},"encoding":{"x":{"field":"x","type":"quantitative","scale":{"type":"log","domain":[0.00417,0.964],"nice":false},"axis":null},"y":{"field":"y","type":"quantitative","scale":{"domain":[0,0.705],"nice":false},"axis":null},"yError":{"field":"e"}}},
{"mark":{"type":"point","strokeWidth":1.3,"size":26,"opacity":1},"encoding":{"x":{"field":"x","type":"quantitative","scale":{"type":"log","domain":[0.00417,0.964],"nice":false},"axis":null},"y":{"field":"y","type":"quantitative","scale":{"domain":[0,0.705],"nice":false},"axis":null},
"stroke":{"field":"s","type":"nominal","scale":{"domain":["HERA","ZEUS","H1"],"range":["#000000","#ff0000","#0000ff"]},"legend":null},
"fill":{"field":"s","type":"nominal","scale":{"domain":["HERA","ZEUS","H1"],"range":["#000000","#ffffff","#ffffff"]},"legend":null},
"shape":{"field":"s","type":"nominal","scale":{"domain":["HERA","ZEUS","H1"],"range":["circle","square","circle"]},"legend":null}}},
{"transform":[{"filter":"datum.s == 'HERA'"}],"mark":{"type":"circle","color":"black","size":45,"opacity":1},"encoding":{"x":{"field":"x","type":"quantitative","scale":{"type":"log","domain":[0.00417,0.964],"nice":false},"axis":null},"y":{"field":"y","type":"quantitative","scale":{"domain":[0,0.705],"nice":false},"axis":null}}}
],"resolve":{"axis":{"x":"independent","y":"independent"}}},
{"width":104,"height":137,"title":{"text":"Q² = 8000 GeV²","offset":-19},"transform":[{"filter":"datum.q == 8000"}],
"layer":[
{"mark":{"type":"point","opacity":0},"encoding":{"x":{"field":"x","type":"quantitative","scale":{"type":"log","domain":[0.00417,0.964],"nice":false},"axis":{"orient":"bottom","values":[0.01,0.1],"tickSize":-6,"labels":true,"labelExpr":"datum.value < 0.05 ? '10⁻²' : '10⁻¹'","labelPadding":9,"title":"x","titleAnchor":"end","titleAlign":"right","titleFontSize":16,"titlePadding":-5}},"y":{"field":"y","type":"quantitative","scale":{"domain":[0,0.705],"nice":false},"axis":{"orient":"left","values":[0,0.2,0.4,0.6],"tickSize":-6,"labels":false,"title":null}}}},
{"mark":{"type":"point","opacity":0},"encoding":{"x":{"field":"x","type":"quantitative","scale":{"type":"log","domain":[0.00417,0.964],"nice":false},"axis":{"orient":"bottom","values":[0.005,0.006,0.007,0.008,0.009,0.02,0.03,0.04,0.05,0.06,0.07,0.08,0.09,0.2,0.3,0.4,0.5,0.6,0.7,0.8,0.9],"tickSize":-3,"labels":false,"title":null}},"y":{"field":"y","type":"quantitative","scale":{"domain":[0,0.705],"nice":false},"axis":{"orient":"left","values":[0.05,0.1,0.15,0.25,0.3,0.35,0.45,0.5,0.55,0.65,0.7],"tickSize":-3,"labels":false,"title":null}}}},
{"transform":[{"filter":"datum.s == 'ZEUS'"}],"mark":{"type":"errorbar","color":"#ff2020","opacity":0.55,"thickness":2.6},"encoding":{"x":{"field":"x","type":"quantitative","scale":{"type":"log","domain":[0.00417,0.964],"nice":false},"axis":null},"y":{"field":"y","type":"quantitative","scale":{"domain":[0,0.705],"nice":false},"axis":null},"yError":{"field":"e"}}},
{"transform":[{"filter":"datum.s == 'H1'"}],"mark":{"type":"errorbar","color":"#2020ff","opacity":0.85,"thickness":1.4},"encoding":{"x":{"field":"x","type":"quantitative","scale":{"type":"log","domain":[0.00417,0.964],"nice":false},"axis":null},"y":{"field":"y","type":"quantitative","scale":{"domain":[0,0.705],"nice":false},"axis":null},"yError":{"field":"e"}}},
{"transform":[{"filter":"datum.s == 'HERA'"}],"mark":{"type":"square","color":"#999999","size":70,"opacity":0.7},"encoding":{"x":{"field":"x","type":"quantitative","scale":{"type":"log","domain":[0.00417,0.964],"nice":false},"axis":null},"y":{"field":"y","type":"quantitative","scale":{"domain":[0,0.705],"nice":false},"axis":null}}},
{"transform":[{"filter":"datum.s == 'HERA'"}],"mark":{"type":"errorbar","color":"black","thickness":1,"ticks":{"size":6}},"encoding":{"x":{"field":"x","type":"quantitative","scale":{"type":"log","domain":[0.00417,0.964],"nice":false},"axis":null},"y":{"field":"y","type":"quantitative","scale":{"domain":[0,0.705],"nice":false},"axis":null},"yError":{"field":"e"}}},
{"mark":{"type":"point","strokeWidth":1.3,"size":26,"opacity":1},"encoding":{"x":{"field":"x","type":"quantitative","scale":{"type":"log","domain":[0.00417,0.964],"nice":false},"axis":null},"y":{"field":"y","type":"quantitative","scale":{"domain":[0,0.705],"nice":false},"axis":null},
"stroke":{"field":"s","type":"nominal","scale":{"domain":["HERA","ZEUS","H1"],"range":["#000000","#ff0000","#0000ff"]},"legend":null},
"fill":{"field":"s","type":"nominal","scale":{"domain":["HERA","ZEUS","H1"],"range":["#000000","#ffffff","#ffffff"]},"legend":null},
"shape":{"field":"s","type":"nominal","scale":{"domain":["HERA","ZEUS","H1"],"range":["circle","square","circle"]},"legend":null}}},
{"transform":[{"filter":"datum.s == 'HERA'"}],"mark":{"type":"circle","color":"black","size":45,"opacity":1},"encoding":{"x":{"field":"x","type":"quantitative","scale":{"type":"log","domain":[0.00417,0.964],"nice":false},"axis":null},"y":{"field":"y","type":"quantitative","scale":{"domain":[0,0.705],"nice":false},"axis":null}}}
],"resolve":{"axis":{"x":"independent","y":"independent"}}},
{"width":104,"height":136,"title":{"text":"Q² = 15000 GeV²","offset":-34},"transform":[{"filter":"datum.q == 15000"}],
"layer":[
{"mark":{"type":"point","opacity":0},"encoding":{"x":{"field":"x","type":"quantitative","scale":{"type":"log","domain":[0.00417,0.964],"nice":false},"axis":{"orient":"bottom","values":[0.01,0.1],"tickSize":-6,"labels":true,"labelExpr":"datum.value < 0.05 ? '10⁻²' : '10⁻¹'","labelPadding":9,"title":"x","titleAnchor":"end","titleAlign":"right","titleFontSize":16,"titlePadding":-5}},"y":{"field":"y","type":"quantitative","scale":{"domain":[0,0.189],"nice":false},"axis":{"orient":"left","values":[0,0.05,0.1,0.15],"format":"~g","tickSize":-6,"labels":true,"labelPadding":10,"title":null}}}},
{"mark":{"type":"point","opacity":0},"encoding":{"x":{"field":"x","type":"quantitative","scale":{"type":"log","domain":[0.00417,0.964],"nice":false},"axis":{"orient":"bottom","values":[0.005,0.006,0.007,0.008,0.009,0.02,0.03,0.04,0.05,0.06,0.07,0.08,0.09,0.2,0.3,0.4,0.5,0.6,0.7,0.8,0.9],"tickSize":-3,"labels":false,"title":null}},"y":{"field":"y","type":"quantitative","scale":{"domain":[0,0.189],"nice":false},"axis":{"orient":"left","values":[0.01,0.02,0.03,0.04,0.06,0.07,0.08,0.09,0.11,0.12,0.13,0.14,0.16,0.17,0.18],"tickSize":-3,"labels":false,"title":null}}}},
{"transform":[{"filter":"datum.s == 'ZEUS'"}],"mark":{"type":"errorbar","color":"#ff2020","opacity":0.55,"thickness":2.6},"encoding":{"x":{"field":"x","type":"quantitative","scale":{"type":"log","domain":[0.00417,0.964],"nice":false},"axis":null},"y":{"field":"y","type":"quantitative","scale":{"domain":[0,0.189],"nice":false},"axis":null},"yError":{"field":"e"}}},
{"transform":[{"filter":"datum.s == 'H1'"}],"mark":{"type":"errorbar","color":"#2020ff","opacity":0.85,"thickness":1.4},"encoding":{"x":{"field":"x","type":"quantitative","scale":{"type":"log","domain":[0.00417,0.964],"nice":false},"axis":null},"y":{"field":"y","type":"quantitative","scale":{"domain":[0,0.189],"nice":false},"axis":null},"yError":{"field":"e"}}},
{"transform":[{"filter":"datum.s == 'HERA'"}],"mark":{"type":"errorbar","color":"black","thickness":1,"ticks":{"size":6}},"encoding":{"x":{"field":"x","type":"quantitative","scale":{"type":"log","domain":[0.00417,0.964],"nice":false},"axis":null},"y":{"field":"y","type":"quantitative","scale":{"domain":[0,0.189],"nice":false},"axis":null},"yError":{"field":"e"}}},
{"mark":{"type":"point","strokeWidth":1.3,"size":26,"opacity":1},"encoding":{"x":{"field":"x","type":"quantitative","scale":{"type":"log","domain":[0.00417,0.964],"nice":false},"axis":null},"y":{"field":"y","type":"quantitative","scale":{"domain":[0,0.189],"nice":false},"axis":null},
"stroke":{"field":"s","type":"nominal","scale":{"domain":["HERA","ZEUS","H1"],"range":["#000000","#ff0000","#0000ff"]},"legend":{"title":null,"orient":"none","legendX":180,"legendY":41,"labelExpr":"datum.label == 'HERA' ? 'HERA I CC e⁺p' : datum.label"}},
"fill":{"field":"s","type":"nominal","scale":{"domain":["HERA","ZEUS","H1"],"range":["#000000","#ffffff","#ffffff"]},"legend":{"title":null,"orient":"none","legendX":180,"legendY":41,"labelExpr":"datum.label == 'HERA' ? 'HERA I CC e⁺p' : datum.label"}},
"shape":{"field":"s","type":"nominal","scale":{"domain":["HERA","ZEUS","H1"],"range":["circle","square","circle"]},"legend":{"title":null,"orient":"none","legendX":180,"legendY":41,"labelExpr":"datum.label == 'HERA' ? 'HERA I CC e⁺p' : datum.label"}}}},
{"transform":[{"filter":"datum.s == 'HERA'"}],"mark":{"type":"circle","color":"black","size":45,"opacity":1},"encoding":{"x":{"field":"x","type":"quantitative","scale":{"type":"log","domain":[0.00417,0.964],"nice":false},"axis":null},"y":{"field":"y","type":"quantitative","scale":{"domain":[0,0.189],"nice":false},"axis":null}}}
],"resolve":{"axis":{"x":"independent","y":"independent"}}}
],
"config":{
"font":"Liberation Serif",
"view":{"stroke":"black","strokeWidth":1.6},
"axis":{"grid":false,"domain":false,"tickColor":"black","tickWidth":1,"labelFont":"Liberation Serif","labelFontWeight":"bold","labelFontSize":11,"labelColor":"black","titleFont":"Liberation Serif","titleFontWeight":"bold","titleColor":"black"},
"title":{"font":"Liberation Serif","fontSize":11.5,"fontWeight":"bold","anchor":"middle","frame":"group","color":"black"},
"legend":{"labelFont":"Liberation Serif","labelFontSize":16,"labelFontWeight":"bold","labelColor":"black","symbolSize":60,"symbolStrokeWidth":1.4,"rowPadding":7,"labelOffset":10}
}
}
